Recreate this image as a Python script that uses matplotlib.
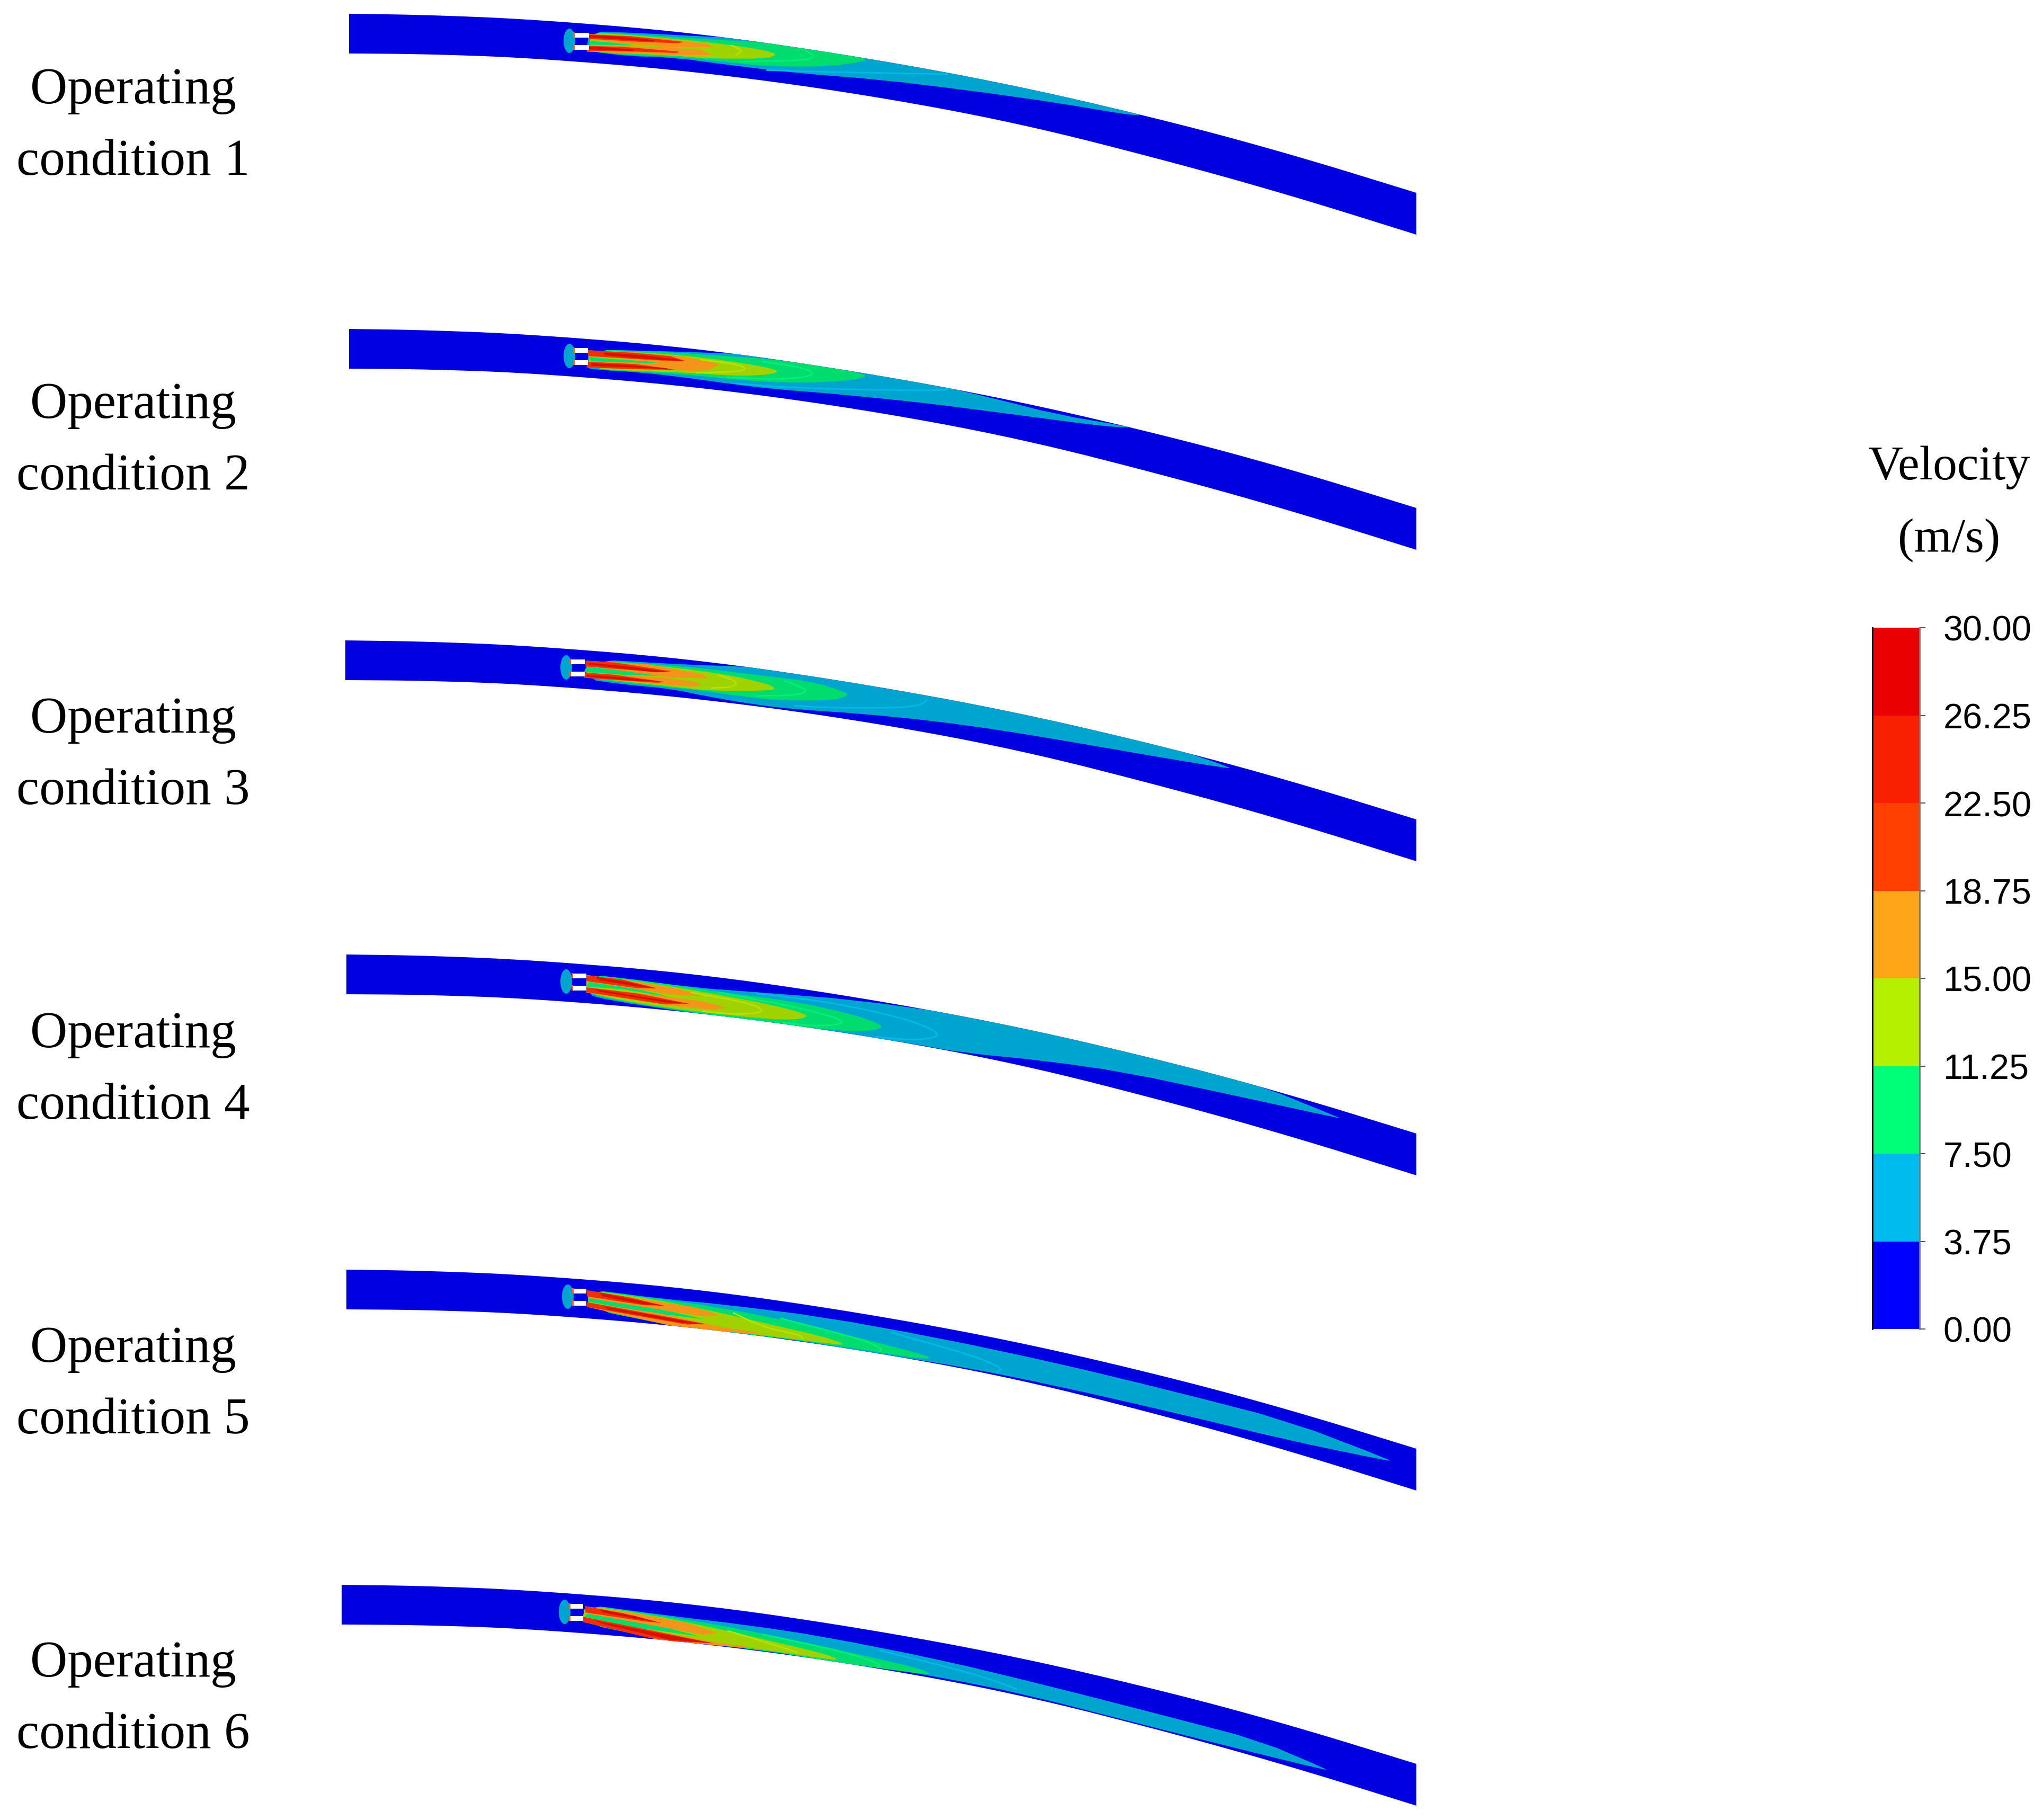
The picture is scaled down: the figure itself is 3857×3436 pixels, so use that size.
import matplotlib
matplotlib.use("Agg")
import matplotlib.pyplot as plt
import numpy as np
from matplotlib.patches import Ellipse, Polygon, Rectangle

W, H = 3857, 3437

# velocity legend
levels = [0.00, 3.75, 7.50, 11.25, 15.00, 18.75, 22.50, 26.25, 30.00]
level_labels = ["0.00", "3.75", "7.50", "11.25", "15.00", "18.75", "22.50", "26.25", "30.00"]
level_colors = ["#0000FF", "#00BBEE", "#00FF78", "#B4F000", "#FFA518", "#FF4000", "#F82000", "#EA0000"]

# channel outline, first panel, image pixels
edge_x = [659, 800, 1000, 1306, 1612, 1918, 2224, 2450, 2674]
edge_top = [27, 29, 37, 62, 106, 162, 234, 296, 365]
edge_bottom = [102, 103, 110, 135, 176, 232, 310, 374, 444]

panel_dy = [0, 595, 1183, 1776, 2371, 2966]
panel_left = [659, 659, 652, 654, 654, 645]
nozzle_x = [1075, 1075, 1069, 1069, 1072, 1066]
white_x0 = [1085, 1085, 1078, 1082, 1083, 1077]
white_x1 = [1112, 1110, 1104, 1107, 1107, 1101]
condition_labels = ["1", "2", "3", "4", "5", "6"]

# where the contour readings were taken from
read_x0 = [1000, 1000, 1000, 1000, 1000, 1000]
read_y0 = [30, 630, 1220, 1810, 2400, 3000]
read_sx = [1.206, 1.206, 1.12, 0.98, 0.908, 0.908]

cyan_1 = [(135,90),(250,100),(400,120),(500,130),(600,160),(760,215),(900,290),(1100,390),(1300,510),(1390,560),(1385,568),(1330,550),(1200,495),(1000,425),(800,365),(600,325),(450,280),(330,240),(220,230),(140,205),(130,190)]
green_1 = [(135,95),(230,105),(400,135),(520,150),(640,185),(760,235),(765,260),(680,290),(550,290),(450,265),(350,238),(220,225),(140,205)]
yellow_1 = [(140,100),(200,105),(340,135),(450,165),(530,195),(565,220),(540,245),(410,245),(330,228),(160,210),(135,195)]
gap_1 = [(140,145),(190,155),(240,170),(170,168),(135,166)]
orange_up_1 = [(135,105),(300,130),(400,160),(420,180),(310,180),(220,160),(135,135)]
orange_lo_1 = [(130,170),(300,180),(390,195),(415,225),(340,225),(130,205)]
red_up_1 = [(135,108),(230,118),(350,150),(340,158),(250,150),(135,133)]
red_lo_1 = [(130,172),(220,180),(340,205),(335,213),(240,205),(130,200)]
dark_up_1 = [(135,112),(180,115),(285,140),(280,148),(135,125)]
dark_lo_1 = [(130,178),(170,180),(240,195),(235,202),(130,192)]
cyan_line_1 = [(540,310),(700,322),(950,333)]
green_line_1 = [(620,190),(650,230),(630,255),(480,262)]
yellow_line_1 = [(460,170),(485,200),(470,225)]

cyan_2 = [(135,92),(350,105),(500,120),(620,155),(760,210),(900,280),(1050,365),(1200,460),(1365,530),(1360,535),(1300,525),(1100,460),(900,395),(700,345),(550,315),(450,285),(350,250),(250,222),(140,205),(130,190)]
green_2 = [(135,92),(300,105),(420,125),(560,150),(680,190),(760,230),(765,250),(720,270),(620,283),(500,270),(400,245),(300,225),(140,205)]
yellow_2 = [(135,95),(300,115),(400,140),(500,175),(560,205),(565,225),(520,240),(450,240),(370,225),(250,215),(135,200)]
gap_2 = [(135,135),(180,145),(300,165),(240,172),(140,158)]
orange_up_2 = [(133,97),(250,110),(340,130),(400,155),(432,178),(405,210),(360,212),(300,170),(200,140),(133,130)]
orange_lo_2 = [(130,160),(300,170),(405,210),(360,212),(200,200),(130,195)]
red_up_2 = [(133,97),(230,110),(320,130),(355,158),(300,155),(133,130)]
red_lo_2 = [(130,162),(240,175),(300,195),(330,207),(260,205),(130,195)]
dark_up_2 = [(170,110),(260,125),(340,150),(352,158),(290,150),(170,125)]
dark_lo_2 = [(140,170),(220,180),(310,198),(325,207),(250,195),(140,185)]
cyan_line_2 = [(470,285),(600,310),(800,322),(940,325),(960,310),(930,290)]
green_line_2 = [(530,160),(620,195),(648,225),(630,250),(560,262),(450,250)]
yellow_line_2 = [(390,150),(470,175),(495,200),(475,218),(380,225)]

cyan_3 = [(120,75),(350,110),(430,115),(540,135),(700,200),(850,275),(1000,360),(1200,470),(1350,570),(1485,692),(1470,692),(1350,640),(1200,570),(1000,480),(850,425),(700,385),(560,360),(480,335),(380,290),(300,245),(200,220),(120,190)]
green_3 = [(120,78),(320,115),(480,165),(600,205),(670,265),(672,285),(640,310),(520,310),(430,280),(350,250),(250,225),(120,185)]
yellow_3 = [(120,80),(300,120),(430,170),(500,215),(520,240),(510,255),(380,255),(330,240),(120,180)]
gap_3 = [(120,120),(240,150),(330,175),(200,165),(115,148)]
orange_up_3 = [(120,85),(250,105),(370,165),(375,185),(300,180),(120,115)]
orange_lo_3 = [(115,152),(280,180),(350,205),(365,225),(340,232),(115,180)]
red_up_3 = [(118,85),(180,95),(300,145),(270,150),(118,118)]
red_lo_3 = [(115,152),(180,165),(285,205),(270,210),(115,182)]
dark_up_3 = [(125,97),(200,115),(295,148),(265,150),(125,107)]
dark_lo_3 = [(120,165),(190,178),(280,203),(225,200),(120,175)]
cyan_line_3 = [(560,340),(640,352),(780,352),(830,335),(840,305)]
green_line_3 = [(540,200),(590,250),(570,280),(480,285)]
yellow_line_3 = [(400,165),(440,205),(430,235),(385,240)]

cyan_4 = [(105,90),(300,165),(430,195),(600,235),(800,320),(1000,450),(1200,590),(1350,720),(1500,905),(1495,905),(1300,775),(1100,645),(950,580),(800,535),(700,480),(500,390),(300,310),(150,240),(105,205)]
green_4 = [(105,90),(220,130),(350,190),(500,250),(600,320),(650,375),(650,400),(620,413),(570,410),(450,370),(300,305),(180,250),(105,200)]
yellow_4 = [(105,95),(200,130),(330,195),(450,265),(510,315),(512,335),(490,348),(440,345),(300,300),(180,245),(105,195)]
gap_4 = [(110,135),(200,175),(260,220),(170,175),(105,160)]
orange_up_4 = [(105,95),(200,135),(270,170),(320,215),(260,205),(105,130)]
orange_lo_4 = [(105,165),(220,205),(320,245),(365,280),(340,292),(280,275),(105,195)]
red_up_4 = [(105,97),(170,120),(235,170),(200,170),(105,130)]
red_lo_4 = [(105,165),(200,200),(295,258),(250,262),(105,192)]
dark_up_4 = [(120,105),(180,135),(235,172),(200,160),(130,125)]
dark_lo_4 = [(120,175),(200,215),(295,258),(250,250),(130,190)]
cyan_line_4 = [(420,200),(560,250),(700,345),(760,425),(745,455),(700,463),(640,445)]
green_line_4 = [(350,195),(500,280),(580,350),(575,375),(530,385),(470,365)]
yellow_line_4 = [(300,195),(400,250),(432,290),(425,310),(380,318),(320,300)]

cyan_5 = [(100,105),(230,160),(330,190),(500,260),(700,380),(900,520),(1100,680),(1300,850),(1478,1075),(1468,1075),(1300,960),(1100,800),(900,650),(750,550),(600,470),(400,365),(250,310),(100,215)]
green_5 = [(100,105),(200,150),(330,210),(480,310),(600,410),(680,480),(688,500),(650,490),(530,425),(400,370),(250,315),(100,215)]
yellow_5 = [(100,110),(200,155),(310,225),(420,310),(500,370),(540,415),(530,420),(400,365),(260,315),(100,210)]
gap_5 = [(100,150),(180,185),(300,275),(200,235),(100,175)]
orange_up_5 = [(100,115),(200,165),(280,205),(325,250),(300,260),(100,155)]
orange_lo_5 = [(98,180),(220,240),(330,320),(410,360),(330,345),(240,310),(98,205)]
red_up_5 = [(98,110),(170,150),(230,198),(195,195),(98,145)]
red_lo_5 = [(98,178),(200,240),(300,300),(270,305),(98,205)]
dark_up_5 = [(120,125),(180,165),(232,200),(195,190),(125,145)]
dark_lo_5 = [(130,205),(210,250),(300,305),(260,295),(135,220)]
cyan_line_5 = [(620,350),(760,480),(812,555),(800,575)]
green_line_5 = [(430,270),(560,380),(605,440),(600,458)]
yellow_line_5 = [(350,240),(400,320),(465,365),(468,385)]

cyan_6 = [(95,90),(230,150),(380,210),(500,270),(700,400),(900,560),(1100,730),(1250,860),(1368,1025),(1360,1025),(1230,920),(1050,770),(850,600),(700,500),(550,420),(400,345),(220,285),(90,195)]
green_6 = [(95,90),(200,140),(340,215),(480,310),(600,400),(670,455),(692,490),(640,470),(520,415),(400,350),(220,285),(90,195)]
yellow_6 = [(95,95),(200,145),(320,225),(430,310),(500,365),(530,400),(520,405),(400,345),(300,310),(220,285),(90,190)]
gap_6 = [(100,135),(180,175),(290,270),(190,225),(95,160)]
orange_up_6 = [(95,100),(190,145),(270,195),(320,250),(300,262),(95,140)]
orange_lo_6 = [(92,165),(200,230),(310,300),(395,340),(330,325),(220,290),(92,190)]
red_up_6 = [(95,100),(160,140),(225,195),(195,185),(95,135)]
red_lo_6 = [(92,160),(190,225),(315,310),(250,300),(200,275),(92,190)]
dark_up_6 = [(120,118),(180,155),(225,195),(180,170),(125,135)]
dark_lo_6 = [(110,180),(200,240),(315,310),(240,290),(125,200)]
cyan_line_6 = [(600,350),(760,480),(835,570)]
green_line_6 = [(400,260),(540,360),(600,425),(600,445)]
yellow_line_6 = [(340,240),(420,320),(458,360)]

blue = "#0000E0"
cyan = "#00A5CF"
green = "#00DC6E"
yellow = "#A0D200"
orange = "#F5941A"
red = "#F03000"
dark = "#D81000"

bands = [
    [cyan_1, green_1, yellow_1, gap_1, orange_up_1, orange_lo_1, red_up_1, red_lo_1, dark_up_1, dark_lo_1],
    [cyan_2, green_2, yellow_2, gap_2, orange_up_2, orange_lo_2, red_up_2, red_lo_2, dark_up_2, dark_lo_2],
    [cyan_3, green_3, yellow_3, gap_3, orange_up_3, orange_lo_3, red_up_3, red_lo_3, dark_up_3, dark_lo_3],
    [cyan_4, green_4, yellow_4, gap_4, orange_up_4, orange_lo_4, red_up_4, red_lo_4, dark_up_4, dark_lo_4],
    [cyan_5, green_5, yellow_5, gap_5, orange_up_5, orange_lo_5, red_up_5, red_lo_5, dark_up_5, dark_lo_5],
    [cyan_6, green_6, yellow_6, gap_6, orange_up_6, orange_lo_6, red_up_6, red_lo_6, dark_up_6, dark_lo_6],
]
band_colors = [cyan, green, yellow, green, orange, orange, red, red, dark, dark]
contour_lines = [
    [cyan_line_1, green_line_1, yellow_line_1],
    [cyan_line_2, green_line_2, yellow_line_2],
    [cyan_line_3, green_line_3, yellow_line_3],
    [cyan_line_4, green_line_4, yellow_line_4],
    [cyan_line_5, green_line_5, yellow_line_5],
    [cyan_line_6, green_line_6, yellow_line_6],
]
line_colors = ["#00BBE8", "#00F078", "#B4E400"]


def chaikin(pts, closed, n=2):
    pts = np.asarray(pts, dtype=float)
    for _ in range(n):
        nxt = np.roll(pts, -1, axis=0) if closed else pts[1:]
        cur = pts if closed else pts[:-1]
        q = 0.75 * cur + 0.25 * nxt
        r = 0.25 * cur + 0.75 * nxt
        new = np.empty((2 * len(cur), 2))
        new[0::2] = q
        new[1::2] = r
        if not closed:
            new = np.vstack([pts[0], new, pts[-1]])
        pts = new
    return pts


def to_px(points, i):
    pts = np.asarray(points, dtype=float)
    return np.column_stack([read_x0[i] + pts[:, 0] / read_sx[i], read_y0[i] + pts[:, 1] / 3])


fig = plt.figure(figsize=(W / 100, H / 100), dpi=100)
ax = fig.add_axes([0, 0, 1, 1])
ax.set_xlim(0, W)
ax.set_ylim(H, 0)
ax.axis("off")

serif = ["Liberation Serif", "DejaVu Serif"]

for i in range(6):
    dy = panel_dy[i]
    xs = [panel_left[i]] + edge_x[1:]
    top = chaikin(np.column_stack([xs, np.array(edge_top) + dy]), False, 3)
    bot = chaikin(np.column_stack([xs, np.array(edge_bottom) + dy]), False, 3)
    channel = Polygon(np.vstack([top, bot[::-1]]), closed=True, fc=blue, ec="none", zorder=1)
    ax.add_patch(channel)

    for k, (pts, col) in enumerate(zip(bands[i], band_colors)):
        # the small jet shapes keep their corners, rounding eats them
        shape = chaikin(to_px(pts, i), True, 1) if k < 3 else to_px(pts, i)
        p = Polygon(shape, closed=True, fc=col, ec="none", zorder=2)
        ax.add_patch(p)
        p.set_clip_path(channel)

    for pts, col in zip(contour_lines[i], line_colors):
        smooth = chaikin(to_px(pts, i), False, 2)
        ln, = ax.plot(smooth[:, 0], smooth[:, 1], color=col, lw=2, zorder=3)
        ln.set_clip_path(channel)

    # burner head and the two nozzles
    cy = dy + 78
    ax.add_patch(Ellipse((nozzle_x[i], cy), 22, 46, fc=cyan, ec="none", zorder=4))
    for ny in (cy - 11, cy + 12):
        ax.add_patch(Rectangle((white_x0[i], ny - 4.5), white_x1[i] - white_x0[i], 9, fc="white", ec="none", zorder=5))
        ax.add_patch(Rectangle((white_x0[i] - 3, ny - 5), 3, 10, fc="#FF5A10", ec="none", zorder=5))

    ax.text(251, 172 + 594 * i, "Operating", family=serif, fontsize=70, ha="center", va="center", color="black")
    ax.text(251, 307 + 594 * i, "condition " + condition_labels[i], family=serif, fontsize=70, ha="center", va="center", color="black")

ax.text(3680, 883, "Velocity", family=serif, fontsize=66, ha="center", va="center")
ax.text(3680, 1020, "(m/s)", family=serif, fontsize=66, ha="center", va="center")

# legend bar
bar_ax = fig.add_axes([3535 / W, 1 - 2510 / H, 89 / W, 1324 / H])
bar_ax.bar(0, np.diff(levels), bottom=levels[:-1], width=1, color=level_colors, align="center")
bar_ax.set_xlim(-0.5, 0.5)
bar_ax.set_ylim(0, 30)
bar_ax.set_xticks([])
bar_ax.yaxis.tick_right()
bar_ax.set_yticks(levels)
bar_ax.set_yticklabels(level_labels, family="Liberation Sans", fontsize=48)
bar_ax.tick_params(axis="y", length=8, width=1.5, color="#555555", pad=24)
for side, spine in bar_ax.spines.items():
    spine.set_visible(side in ("left", "right"))
    spine.set_linewidth(2)
bar_ax.spines["right"].set_color("#777777")
bar_ax.spines["left"].set_color("black")

fig.savefig("out.png", dpi=100, facecolor="white")
